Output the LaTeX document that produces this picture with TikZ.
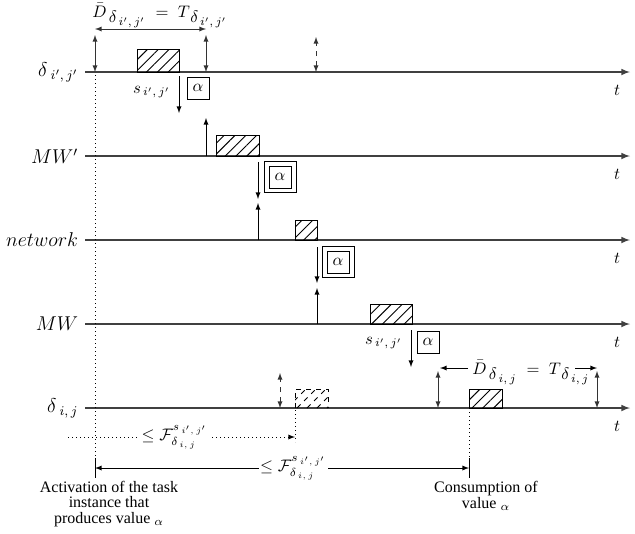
\documentclass[tikz,border=0pt]{standalone}
\usepackage{fontspec}
\setmainfont{Liberation Serif}
\usetikzlibrary{arrows}
\usetikzlibrary{patterns.meta}
\usetikzlibrary{positioning}

\newcommand{\period}[1]{$\bar{D}_{\textstyle\,\delta_{\,#1}} \;=\; T_{\textstyle\,\delta_{\,#1}}$}

\tikzset{
  timeline/.style={draw=black!75, line width=0.8pt, -latex},
  job/.style={draw, pattern={Lines[angle=45,distance=4.6pt,line width=0.55pt]}},
  val/.style={draw, inner sep=0pt, minimum width=13pt, minimum height=13pt},
  sentout/.style={draw, inner sep=0pt, minimum width=19pt, minimum height=18.6pt},
  lbl/.style={font=\large},
  note/.style={align=center, font=\fontsize{9.6}{9.3}\selectfont},
}

\begin{document}
\begin{tikzpicture}[x=0.6pt,y=-0.6pt]
    \useasboundingbox (0,0) rectangle (635,533);

    % time axes
    \foreach \n/\y/\lbl in {a/72/{$\delta_{\;i',\,j'}$}, b/156/{$MW'$},
                            c/240/{$network$}, d/324/{$MW$},
                            e/408/{$\delta_{\;i,\,j}$}} {
        \coordinate (\n0) at (85,\y);
        \coordinate (\n1) at (630,\y);
        \node[lbl, anchor=east] (lbl\n) at (84,\y) {\lbl};
        \node (t\n) at (617,\y+18) {$t$};
        \draw[timeline] (\n0) -- (\n1);
    }

    % branching coordinates
    \coordinate (act)  at (95,75);
    \coordinate (actb) at (95,458);
    \coordinate (con)  at (469,412);
    \coordinate (conb) at (469,458);

    % jobs
    \draw[job] (137,49) rectangle (179,72);
    \draw[job] (216,135) rectangle (259,156);
    \draw[job] (295,220) rectangle (317,240);
    \draw[job] (370,304) rectangle (412,324);
    \draw[job] (469,389) rectangle (502,408);
    \begin{scope}
        \clip (295,389) rectangle (328,408);
        \foreach \k in {277,287,...,327}
            \draw[dashed, line width=0.55pt] (\k,408) -- ++(20,-20);
    \end{scope}
    \draw[dashed] (295,408) -- (295,389) -- (328,389) -- (328,408);

    % values
    \node[val] (va) at (198,88) {$\alpha$};
    \node[sentout] (vbo) at (280,177) {};
    \node[val] (vb) at (vbo) {$\alpha$};
    \node[sentout] (vco) at (338,262) {};
    \node[val] (vc) at (vco) {$\alpha$};
    \node[val] (vd) at (428,342) {$\alpha$};

    % periods
    \draw[latex-latex, black!80] (95,72) -- (95,35);
    \draw[latex-latex, black!80] (206,72) -- (206,35);
    \draw[latex-latex, black!80] (95,29) -- (206,29);
    \node[anchor=base west, inner sep=0pt] (Da) at (92,17) {\period{i',\,j'}};
    \draw[latex-latex, dashed, black!80] (316,72) -- (316,37);

    \draw[latex-latex, dashed, black!80] (280,408) -- (280,373);
    \draw[latex-latex, black!80] (438,408) -- (438,371);
    \draw[latex-latex, black!80] (597,408) -- (597,371);
    \node[anchor=base west, inner sep=0pt] (De) at (472,374) {\period{i,\,j}};
    \coordinate (Del) at (468,368);
    \coordinate (Der) at (575,368);
    \draw[-latex] (Del) -- (440,368);
    \draw[-latex] (Der) -- (597,368);

    % messages
    \draw[-latex] (179,76) -- (179,113);
    \node[anchor=east] (sa) at (176,92) {$s_{\,i',\,j'}$};
    \draw[-latex] (206,156) -- (206,118);
    \draw[-latex] (258,162) -- (258,199);
    \draw[-latex] (258,240) -- (258,203);
    \draw[-latex] (317,247) -- (317,283);
    \draw[-latex] (317,324) -- (317,288);
    \draw[-latex] (411,330) -- (411,367);
    \node[anchor=east] (sd) at (408,343) {$s_{\,i',\,j'}$};

    % bounds
    \draw[dotted] (act) -- (actb);
    \draw[dotted] (con) -- (conb);
    \draw (actb) -- ++(0,20);
    \draw (conb) -- ++(0,20);
    \draw[dotted] (295,410) -- (295,442);
    \draw[dotted, -latex] (68,437) -- (295,437)
        node[pos=0.47, fill=white, inner sep=1pt] (Fa)
        {$\leq \mathcal{F}^{s_{\,i',\,j'}}_{\delta_{\,i,\,j}}$};
    \draw[latex-latex] (95,468) -- (469,468)
        node[pos=0.53, fill=white, inner sep=1pt] (Fb)
        {$\leq \mathcal{F}^{s_{\,i',\,j'}}_{\delta_{\,i,\,j}}$};

    \node[note] (txa) at (109,504) {Activation of the task\\instance that\\produces value $_\alpha$};
    \node[note] (txb) at (486,496) {Consumption of\\value $_\alpha$};
\end{tikzpicture}
\end{document}
